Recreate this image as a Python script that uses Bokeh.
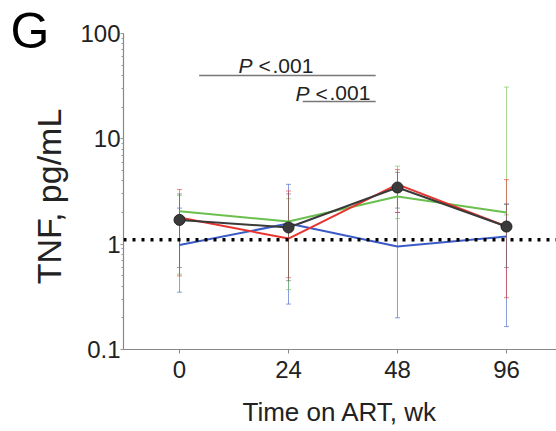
import math
from bokeh.plotting import figure
from bokeh.models import ColumnDataSource, Span, Label, FixedTicker, LogTicker
from bokeh.embed import file_html
from bokeh.resources import INLINE

# Time points (weeks on ART)
weeks = ["0", "24", "48", "96"]

# Group means of TNF (pg/mL)
red_mean = [1.79, 1.13, 3.70, 1.47]
green_mean = [2.05, 1.64, 2.84, 2.00]
blue_mean = [0.98, 1.57, 0.95, 1.18]
black_mean = [1.70, 1.44, 3.45, 1.47]

# Error-bar ranges
red_lo = [0.50, 0.48, 2.00, 0.31]
red_hi = [3.30, 3.20, 5.10, 4.10]
green_lo = [0.52, 0.37, 1.75, 1.90]
green_hi = [2.90, 2.70, 5.50, 31.0]
blue_lo = [0.35, 0.27, 0.20, 0.165]
blue_hi = [2.20, 3.70, 2.00, 2.40]
black_lo = [0.60, 0.45, 2.20, 0.60]
black_hi = [3.00, 3.00, 4.80, 2.40]

# Reference (detection) level
ref_level = 1.1

y_ticks = [0.1, 1, 10, 100]
y_tick_labels = ["0.1", "1", "10", "100"]

FONT = "Liberation Sans"
idx = list(range(len(weeks)))

p = figure(width=556, height=431, y_axis_type="log",
           x_range=(-0.514, 3.459), y_range=(0.1, 100),
           output_backend="svg", toolbar_location=None,
           min_border_left=123, min_border_right=0,
           min_border_top=33, min_border_bottom=82)
p.outline_line_color = None
p.xgrid.visible = False
p.ygrid.visible = False
p.background_fill_color = "white"
p.border_fill_color = "white"

series = [
    (blue_mean, blue_lo, blue_hi, "#3b5cc6"),
    (green_mean, green_lo, green_hi, "#6bbf4e"),
    (red_mean, red_lo, red_hi, "#e8332e"),
]

# error bars first, then the connecting lines
for mean, lo, hi, col in series + [(black_mean, black_lo, black_hi, "#666666")]:
    src = ColumnDataSource(dict(x=idx, lo=lo, hi=hi))
    p.segment(x0="x", y0="lo", x1="x", y1="hi", source=src,
              line_color=col, line_width=1, line_alpha=0.6)
    p.scatter(x="x", y="lo", source=src, marker="dash", size=5,
              line_color=col, line_alpha=0.6, line_width=1)
    p.scatter(x="x", y="hi", source=src, marker="dash", size=5,
              line_color=col, line_alpha=0.6, line_width=1)

for mean, lo, hi, col in series:
    p.line(idx, mean, line_color=col, line_width=2)

p.line(idx, black_mean, line_color="#3a3a3a", line_width=2)
p.scatter(idx, black_mean, marker="circle", size=11,
          fill_color="#3a3a3a", line_color="#222222", line_width=1)

# dotted reference line
p.add_layout(Span(location=ref_level, dimension="width", line_color="black",
                  line_width=3.5, line_dash="3 6"))

# significance brackets
p.line([0.18, 1.80], [40.0, 40.0], line_color="#777777", line_width=1.5)
p.line([1.13, 1.80], [22.6, 22.6], line_color="#777777", line_width=1.5)
for (xp, xl, xn, yb) in [(0.541, 0.725, 0.853, 49.5), (1.064, 1.248, 1.376, 27.0)]:
    p.add_layout(Label(x=xp, y=yb, text="P", text_font=FONT,
                       text_font_size="21px", text_font_style="italic",
                       text_color="#222222", text_baseline="alphabetic"))
    p.add_layout(Label(x=xl, y=yb, text="<", text_font=FONT,
                       text_font_size="21px", text_color="#222222",
                       text_baseline="alphabetic"))
    p.add_layout(Label(x=xn, y=yb, text=".001", text_font=FONT,
                       text_font_size="21px", text_color="#222222",
                       text_baseline="alphabetic"))

# axes
xa = p.xaxis[0]
xa.ticker = FixedTicker(ticks=idx)
xa.major_label_overrides = {i: w for i, w in zip(idx, weeks)}
xa.axis_label = "Time on ART, wk"
ya = p.yaxis[0]
ya.ticker = LogTicker(desired_num_ticks=4, mantissas=[1], num_minor_ticks=10)
ya.major_label_overrides = {t: s for t, s in zip(y_ticks, y_tick_labels)}

for ax in (xa, ya):
    ax.axis_line_color = "#888888"
    ax.axis_line_width = 1.2
    ax.major_tick_line_color = "#888888"
    ax.minor_tick_line_color = "#999999"
    ax.major_tick_in = 0
    ax.minor_tick_in = 0
    ax.major_label_text_font = FONT
    ax.major_label_text_font_size = "24px"
    ax.major_label_text_color = "#222222"
    ax.axis_label_text_font = FONT
    ax.axis_label_text_font_style = "normal"
    ax.axis_label_text_color = "#222222"

xa.major_tick_out = 4
xa.minor_tick_out = 0
xa.major_label_standoff = 7
xa.axis_label_text_font_size = "26px"
xa.axis_label_standoff = 16

ya.major_tick_out = 3
ya.minor_tick_out = 2
ya.major_label_standoff = 0

# y-axis title and panel letter, both placed in the left border panel
p.add_layout(Label(x=48, y=196, x_units="canvas", y_units="canvas",
                   text="TNF, pg/mL", angle=math.pi / 2, text_font=FONT,
                   text_font_size="34px", text_color="#222222",
                   text_align="center", text_baseline="alphabetic"), "left")
p.add_layout(Label(x=10, y=30, x_units="canvas", y_units="canvas",
                   text="G", text_font=FONT, text_font_size="50px",
                   text_color="black", text_baseline="alphabetic"), "left")

open("out.html", "w").write(file_html(p, INLINE))
